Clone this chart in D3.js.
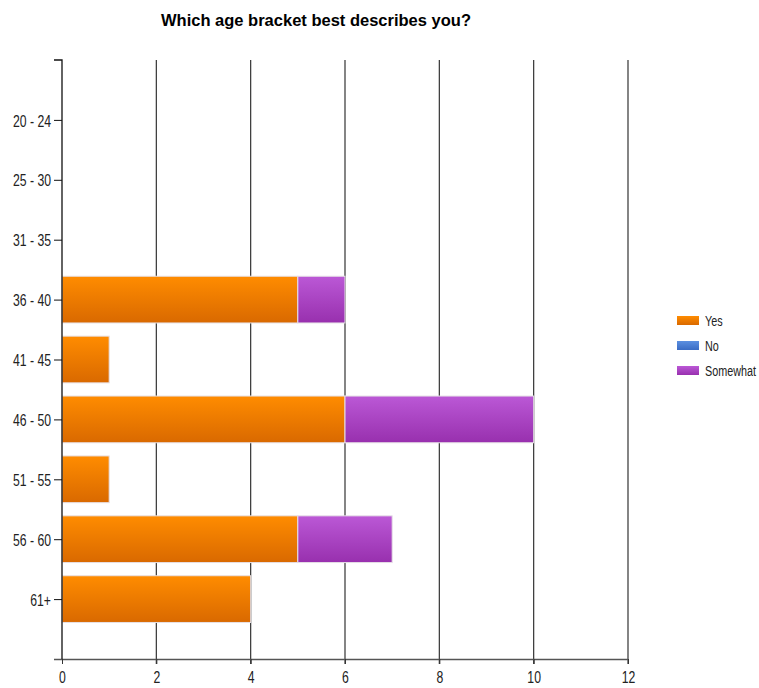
<!DOCTYPE html>
<html>
<head>
<meta charset="utf-8">
<script src="https://cdn.jsdelivr.net/npm/d3@7"></script>
<style>
  html, body { margin: 0; padding: 0; background: #fff; }
  svg { display: block; }
  .lbl { font-family: "Liberation Sans Narrow", "Arial Narrow", "Liberation Sans", Arial, sans-serif; font-size: 17px; fill: #222; }
</style>
</head>
<body>
<svg id="chart" width="759" height="688"></svg>
<script>
// Age brackets and answer counts per series
const categories = ["20 - 24", "25 - 30", "31 - 35", "36 - 40", "41 - 45", "46 - 50", "51 - 55", "56 - 60", "61+"];
const seriesNames = ["Yes", "No", "Somewhat"];
const yesValues = [0, 0, 0, 5, 1, 6, 1, 5, 4];
const noValues = [0, 0, 0, 0, 0, 0, 0, 0, 0];
const somewhatValues = [0, 0, 0, 1, 0, 4, 0, 2, 0];
const xTicks = [0, 2, 4, 6, 8, 10, 12];

const svg = d3.select("#chart");
const plotLeft = 62, plotRight = 628, plotTop = 60, plotBottom = 659;
const narrow = 0.72; // horizontal squeeze for the condensed label face

const x = d3.scaleLinear().domain([0, 12]).range([plotLeft, plotRight]);
const y = d3.scalePoint().domain(categories).range([plotTop, plotBottom]).padding(1);
const barH = y.step() * 0.78;

const colors = {
  "Yes": ["#ff8c00", "#d96900"],
  "No": ["#5b8fe0", "#3a6cc4"],
  "Somewhat": ["#bb58d6", "#9830ae"]
};

// vertical gradients for bar fills
const defs = svg.append("defs");
seriesNames.forEach((s, i) => {
  const g = defs.append("linearGradient").attr("id", "grad" + i)
    .attr("x1", 0).attr("y1", 0).attr("x2", 0).attr("y2", 1);
  g.append("stop").attr("offset", "0%").attr("stop-color", colors[s][0]);
  g.append("stop").attr("offset", "100%").attr("stop-color", colors[s][1]);
});

// title
svg.append("text")
  .attr("x", 316).attr("y", 26)
  .attr("text-anchor", "middle")
  .style("font-family", "'Liberation Sans', Arial, sans-serif")
  .style("font-weight", "bold")
  .style("font-size", "16.5px")
  .attr("fill", "#000")
  .text("Which age bracket best describes you?");

// vertical gridlines
svg.append("g").selectAll("line")
  .data(xTicks.filter(d => d > 0))
  .join("line")
  .attr("x1", d => x(d)).attr("x2", d => x(d))
  .attr("y1", plotTop).attr("y2", plotBottom + 5)
  .attr("stroke", "#333").attr("stroke-width", 1.2);

// stacked bars
const rows = categories.map((c, i) => ({ cat: c, Yes: yesValues[i], No: noValues[i], Somewhat: somewhatValues[i] }));
const stacked = d3.stack().keys(seriesNames)(rows);
stacked.forEach((layer, si) => {
  svg.append("g").selectAll("rect")
    .data(layer.filter(d => d[1] - d[0] > 0))
    .join("rect")
    .attr("x", d => x(d[0]))
    .attr("width", d => x(d[1]) - x(d[0]))
    .attr("y", d => y(d.data.cat) - barH / 2)
    .attr("height", barH)
    .attr("fill", `url(#grad${si})`)
    .attr("stroke", "#e6e0e6").attr("stroke-width", 1);
});

// x axis
const xAxis = svg.append("g").attr("transform", `translate(0,${plotBottom})`)
  .call(d3.axisBottom(x).tickValues(xTicks).tickSize(5).tickSizeOuter(0));
xAxis.select(".domain").attr("stroke", "#555").attr("stroke-width", 1.3).attr("d", `M${plotLeft - 8},0.5H${plotRight}`);
xAxis.selectAll(".tick line").attr("stroke", "#333");
xAxis.selectAll(".tick text").attr("class", "lbl")
  .attr("y", 24).attr("dy", null)
  .attr("transform", `scale(${narrow},1)`).attr("fill", "#222");

// y axis
const yAxis = svg.append("g").attr("transform", `translate(${plotLeft},0)`)
  .call(d3.axisLeft(y).tickSize(8).tickSizeOuter(0));
yAxis.select(".domain").attr("stroke", "#111").attr("stroke-width", 1.3).attr("d", `M-8,${plotTop}H0V${plotBottom}`);
yAxis.selectAll(".tick line").attr("stroke", "#111");
yAxis.selectAll(".tick text").attr("class", "lbl")
  .attr("x", -11 / narrow).attr("dy", "0.36em")
  .attr("transform", `scale(${narrow},1)`).attr("fill", "#222");

// legend
const legend = svg.append("g").attr("transform", "translate(677,316)");
seriesNames.forEach((s, i) => {
  const row = legend.append("g").attr("transform", `translate(0,${i * 25})`);
  row.append("rect").attr("width", 22).attr("height", 9).attr("fill", `url(#grad${i})`);
  row.append("text").attr("class", "lbl")
    .attr("x", 28 / narrow).attr("y", 10)
    .attr("transform", `scale(${narrow},1)`)
    .style("font-size", "15px").text(s);
});
</script>
</body>
</html>
